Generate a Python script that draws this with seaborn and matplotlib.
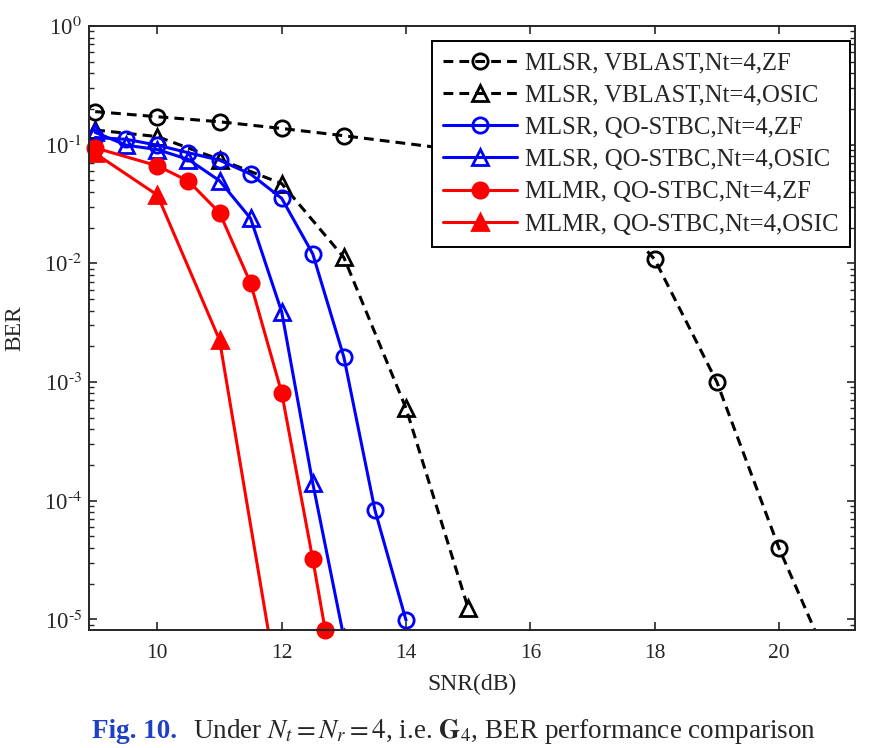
#!/usr/bin/env python3

import matplotlib.pyplot as plt
import numpy as np
import pandas as pd
import seaborn as sns
from matplotlib.ticker import FuncFormatter

# Data (SNR in dB, BER)
snr_vb_zf = [9, 10, 11, 12, 13, 15, 16, 17, 18, 19, 20, 21]
ber_vb_zf = [0.19, 0.172, 0.156, 0.137, 0.119, 0.088, 0.07, 0.04,
             0.0108, 1.0e-3, 3.97e-5, 2.5e-6]

snr_vb_osic = [9, 10, 11, 12, 13, 14, 15]
ber_vb_osic = [0.133, 0.117, 0.075, 0.047, 0.0112, 6.0e-4, 1.24e-5]

snr_qo = [9, 9.5, 10, 10.5, 11, 11.5, 12, 12.5, 13, 13.5, 14]
ber_qo_zf = [0.115, 0.111, 0.099, 0.0855, 0.074, 0.0565, 0.0353, 0.012,
             1.62e-3, 8.3e-5, 9.8e-6]

snr_qo_osic = [9, 9.5, 10, 10.5, 11, 11.5, 12, 12.5, 13]
ber_qo_osic = [0.127, 0.099, 0.091, 0.075, 0.0497, 0.0239, 3.9e-3, 1.40e-4,
               7.0e-6]

snr_mr_zf = [9, 10, 10.5, 11, 11.5, 12, 12.5, 12.7]
ber_mr_zf = [0.094, 0.0664, 0.0493, 0.0267, 6.8e-3, 8.1e-4, 3.2e-5, 8.1e-6]

snr_mr_osic = [9, 10, 11, 12]
ber_mr_osic = [0.0845, 0.0376, 2.26e-3, 1.7e-6]

labels = [
    "MLSR, VBLAST,Nt=4,ZF",
    "MLSR, VBLAST,Nt=4,OSIC",
    "MLSR, QO-STBC,Nt=4,ZF",
    "MLSR, QO-STBC,Nt=4,OSIC",
    "MLMR, QO-STBC,Nt=4,ZF",
    "MLMR, QO-STBC,Nt=4,OSIC",
]

sns.set_theme(style="ticks")
plt.rcParams["font.family"] = ["Liberation Serif", "DejaVu Serif"]
plt.rcParams["mathtext.fontset"] = "stix"
plt.rcParams["axes.linewidth"] = 1.4
plt.rcParams["xtick.direction"] = "in"
plt.rcParams["ytick.direction"] = "in"

series = [
    (snr_vb_zf, ber_vb_zf, "black", "o", "--", "none"),
    (snr_vb_osic, ber_vb_osic, "black", "^", "--", "none"),
    (snr_qo, ber_qo_zf, "#0000ff", "o", "-", "none"),
    (snr_qo_osic, ber_qo_osic, "#0000ff", "^", "-", "none"),
    (snr_mr_zf, ber_mr_zf, "#ff0000", "o", "-", "#ff0000"),
    (snr_mr_osic, ber_mr_osic, "#ff0000", "^", "-", "#ff0000"),
]

fig = plt.figure(figsize=(8.75, 7.48), dpi=100)
ax = fig.add_axes([0.1017, 0.1578, 0.8753, 0.8074])

for (x, y, col, mk, ls, fc), lab in zip(series, labels):
    df = pd.DataFrame({"SNR": x, "BER": y})
    sns.lineplot(
        x="SNR", y="BER", data=df, ax=ax, color=col, marker=mk,
        linestyle=ls, markerfacecolor=fc, markeredgecolor=col,
        markersize=11, markeredgewidth=2, linewidth=2.2, label=lab,
        sort=False,
    )

# dashed style closer to the original
for line in ax.get_lines()[:2]:
    line.set_dashes((3.2, 2.0))
# the last red circle sits on the bottom edge, draw it whole
ax.get_lines()[4].set_clip_on(False)

ax.set_yscale("log")
ax.set(xlim=(8.9, 21.22), ylim=(10 ** -5.09, 1))
ax.set_xticks(np.arange(10, 21, 2))
ax.set_yticks([1e0, 1e-1, 1e-2, 1e-3, 1e-4, 1e-5])
ax.yaxis.set_major_formatter(FuncFormatter(
    lambda v, p: "10$^{%s}$" % ("0" if v >= 1 else
                                "\u2010%d" % round(-np.log10(v)))
))
ax.tick_params(which="both", top=True, right=True)
ax.tick_params(axis="x", which="major", pad=10, labelsize=15.5)
ax.tick_params(axis="y", which="major", pad=5, labelsize=16.5)
ax.tick_params(which="major", length=6, width=1.2)
ax.tick_params(which="minor", length=3.5, width=1.0)
ax.tick_params(axis="x", which="minor", top=False, bottom=False)

ax.set_xlabel("SNR(dB)", fontsize=17, labelpad=8)
ax.set_ylabel("BER", fontsize=17, labelpad=13)

leg = ax.legend(
    loc="upper right", bbox_to_anchor=(0.993, 0.975), borderaxespad=0,
    fontsize=17.8, handlelength=3.0, fancybox=False, framealpha=1,
    edgecolor="black", labelspacing=0.4, handletextpad=0.3, borderpad=0.45,
)
leg.get_frame().set_linewidth(1.4)

# caption under the plot
fig.text(0.105, 0.0134, "Fig. 10.", color="#1f3fc4", fontsize=19.5,
         fontweight="bold", ha="left", va="baseline")
fig.text(0.2206, 0.0134,
         r"Under $N_t = N_r = 4$, i.e. $\mathbf{G}_4$, BER performance comparison",
         fontsize=19.5, ha="left", va="baseline")

fig.savefig("out.png", dpi=100)
